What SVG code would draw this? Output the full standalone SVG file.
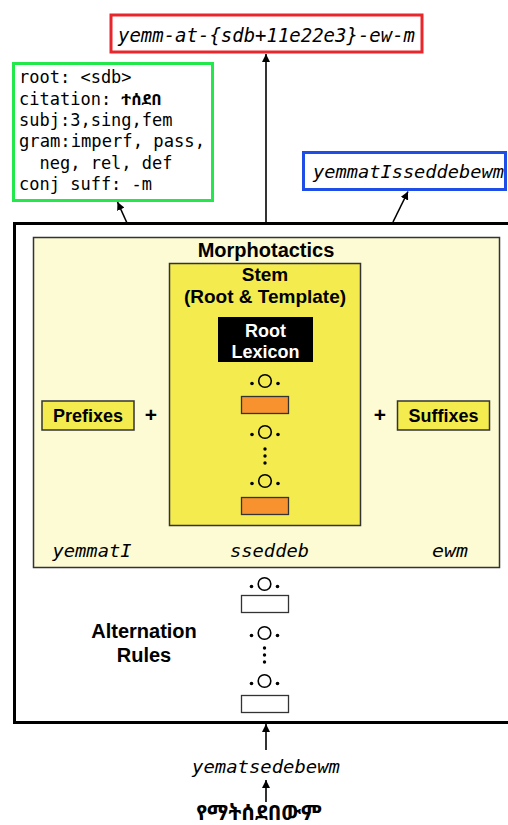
<svg xmlns="http://www.w3.org/2000/svg" width="508" height="825" viewBox="0 0 508 825">
<style>
.mono{font-family:"DejaVu Sans Mono","Liberation Mono",monospace;}
.it{font-style:italic;}
.b{font-family:"Liberation Sans","DejaVu Sans",sans-serif;font-weight:bold;}
.dot{fill:#000;}
.ring{fill:none;stroke:#000;stroke-width:1.6;}
.ln{stroke:#000;stroke-width:1.6;fill:none;}
.eth{font-family:"Noto Sans Ethiopic","Abyssinica SIL","DejaVu Sans","Noto Sans",sans-serif;}
</style>
<defs>
<marker id="ah" viewBox="0 0 10 10" refX="10" refY="5" markerWidth="5" markerHeight="5" orient="auto" markerUnits="strokeWidth">
<path d="M0,0 L10,5 L0,10 z" fill="#000"/>
</marker>
<g id="sym">
<circle cx="0" cy="0" r="6.3" class="ring"/>
<circle cx="-13" cy="2.5" r="1.8" class="dot"/>
<circle cx="13" cy="2.5" r="1.8" class="dot"/>
</g>
<g id="vdots">
<circle cx="0" cy="0" r="1.7" class="dot"/>
<circle cx="0" cy="7" r="1.7" class="dot"/>
<circle cx="0" cy="14" r="1.7" class="dot"/>
</g>
</defs>
<rect width="508" height="825" fill="#fff"/>

<g id="surface-form">
<rect x="111" y="15" width="311" height="37" fill="#fff" stroke="#e8262b" stroke-width="3"/>
<text x="266.5" y="42" text-anchor="middle" class="mono it" font-size="19" textLength="297" lengthAdjust="spacingAndGlyphs">yemm-at-{sdb+11e22e3}-ew-m</text>
</g>

<g id="features">
<rect x="13.5" y="63.5" width="199" height="137" fill="#fff" stroke="#22e84b" stroke-width="3"/>
<g class="mono" font-size="17">
<text x="19" y="83">root: &lt;sdb&gt;</text>
<text x="19" y="105">citation: <tspan class="eth" font-weight="bold" font-size="16">ተሰደበ</tspan></text>
<text x="19" y="126">subj:3,sing,fem</text>
<text x="19" y="147" textLength="186" lengthAdjust="spacingAndGlyphs">gram:imperf, pass,</text>
<text x="19" y="169" xml:space="preserve">  neg, rel, def</text>
<text x="19" y="190">conj suff: -m</text>
</g>
</g>

<g id="gemination-form">
<rect x="303.5" y="152.5" width="202" height="37" fill="#fff" stroke="#1f4ee6" stroke-width="3"/>
<text x="313" y="178" class="mono it" font-size="18" textLength="191" lengthAdjust="spacingAndGlyphs">yemmatIsseddebewm</text>
</g>

<g id="analyzer">
<rect x="14.5" y="223.5" width="500" height="499" fill="#fff" stroke="#000" stroke-width="3"/>
</g>

<g id="morphotactics">
<rect x="33.5" y="237.5" width="466" height="330" fill="#fdfbd3" stroke="#333" stroke-width="1.5"/>
<text x="266" y="257" text-anchor="middle" class="b" font-size="20">Morphotactics</text>
<text x="92" y="557" class="mono it" font-size="17" text-anchor="middle" textLength="79" lengthAdjust="spacingAndGlyphs">yemmatI</text>
<text x="269.5" y="557" class="mono it" font-size="17" text-anchor="middle" textLength="79" lengthAdjust="spacingAndGlyphs">sseddeb</text>
<text x="450" y="557" class="mono it" font-size="17" text-anchor="middle" textLength="36" lengthAdjust="spacingAndGlyphs">ewm</text>
<text x="151" y="422" text-anchor="middle" class="b" font-size="21">+</text>
<text x="380" y="422" text-anchor="middle" class="b" font-size="21">+</text>
</g>

<g id="prefixes">
<rect x="42" y="401" width="92" height="29" fill="#f4ec4f" stroke="#333" stroke-width="1.5"/>
<text x="88" y="422" text-anchor="middle" class="b" font-size="18">Prefixes</text>
</g>

<g id="suffixes">
<rect x="397.5" y="401" width="92" height="29" fill="#f4ec4f" stroke="#333" stroke-width="1.5"/>
<text x="443.5" y="422" text-anchor="middle" class="b" font-size="18">Suffixes</text>
</g>

<g id="stem">
<rect x="169.5" y="263.5" width="191" height="262" fill="#f4ec4f" stroke="#333" stroke-width="1.5"/>
<text x="265" y="281" text-anchor="middle" class="b" font-size="19">Stem</text>
<text x="265" y="303" text-anchor="middle" class="b" font-size="19">(Root &amp; Template)</text>
<use href="#sym" x="265" y="381"/>
<rect x="241.5" y="396.5" width="47" height="17" fill="#f7922f" stroke="#333" stroke-width="1.3"/>
<use href="#sym" x="265" y="432"/>
<use href="#vdots" x="265" y="449"/>
<use href="#sym" x="265" y="481"/>
<rect x="241.5" y="497.5" width="47" height="17" fill="#f7922f" stroke="#333" stroke-width="1.3"/>
</g>

<g id="root-lexicon">
<rect x="218" y="317" width="95" height="45" fill="#000"/>
<text x="265.5" y="337" text-anchor="middle" class="b" font-size="18" fill="#fff">Root</text>
<text x="265.5" y="358" text-anchor="middle" class="b" font-size="18" fill="#fff">Lexicon</text>
</g>

<g id="alternation-rules">
<text x="144" y="638" text-anchor="middle" class="b" font-size="20">Alternation</text>
<text x="144" y="662" text-anchor="middle" class="b" font-size="20">Rules</text>
<use href="#sym" x="264.5" y="584"/>
<rect x="241.5" y="595.5" width="47" height="17" fill="#fff" stroke="#333" stroke-width="1.3"/>
<use href="#sym" x="264.5" y="633"/>
<use href="#vdots" x="264.5" y="648"/>
<use href="#sym" x="264.5" y="681"/>
<rect x="241.5" y="695.5" width="47" height="17" fill="#fff" stroke="#333" stroke-width="1.3"/>
</g>

<g id="romanized">
<text x="266" y="773" text-anchor="middle" class="mono it" font-size="17" textLength="148" lengthAdjust="spacingAndGlyphs">yematsedebewm</text>
</g>

<g id="amharic">
<text x="259" y="820" text-anchor="middle" class="eth" font-weight="bold" font-size="21">የማትሰደበውም</text>
</g>

<g id="connectors">
<line x1="266" y1="223" x2="266" y2="54" class="ln" marker-end="url(#ah)"/>
<line x1="127" y1="223" x2="117.5" y2="202" class="ln" marker-end="url(#ah)"/>
<line x1="393" y1="222" x2="408" y2="191.5" class="ln" marker-end="url(#ah)"/>
<line x1="266" y1="750" x2="266" y2="724" class="ln" marker-end="url(#ah)"/>
<line x1="266" y1="802" x2="266" y2="780" class="ln" marker-end="url(#ah)"/>
</g>
</svg>
